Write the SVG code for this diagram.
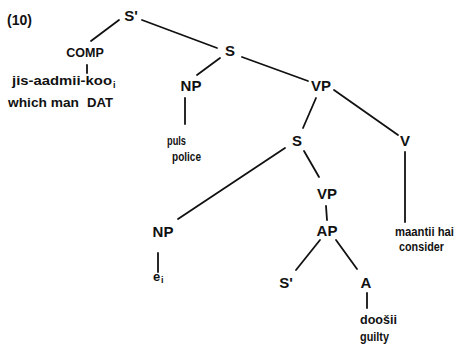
<svg xmlns="http://www.w3.org/2000/svg" width="463" height="345" viewBox="0 0 463 345">
<style>
text{font-family:"Liberation Sans",Arial,sans-serif;font-weight:bold;fill:#111}
.c{font-size:15px;text-anchor:middle}
.w{font-size:13px}
.sub{font-size:9px}
#edges line{stroke:#111;stroke-width:1.8;stroke-linecap:round}
</style>
<rect width="463" height="345" fill="#fff"/>
<text x="7" y="25" style="font-size:14px">(10)</text>
<g id="edges">
<line x1="119" y1="20" x2="91" y2="41"/>
<line x1="87" y1="65" x2="87" y2="73"/>
<line x1="142" y1="20" x2="217" y2="48"/>
<line x1="220" y1="58" x2="197" y2="75"/>
<line x1="185" y1="98" x2="185" y2="124"/>
<line x1="242" y1="57" x2="308" y2="81"/>
<line x1="316" y1="98" x2="303" y2="128"/>
<line x1="334" y1="90" x2="398" y2="135"/>
<line x1="405" y1="152" x2="405" y2="222"/>
<line x1="285" y1="148" x2="178" y2="219"/>
<line x1="158" y1="253" x2="158" y2="272"/>
<line x1="304" y1="151" x2="319" y2="177"/>
<line x1="326" y1="206" x2="327" y2="220"/>
<line x1="320" y1="240" x2="296" y2="270"/>
<line x1="336" y1="240" x2="357" y2="269"/>
<line x1="367" y1="293" x2="367" y2="308"/>
</g>
<g id="n-Sbar"><text class="c" x="131" y="21">S'</text></g>
<g id="n-COMP"><text class="c" x="85" y="57" style="font-size:12.5px">COMP</text></g>
<g id="n-jis"><text class="w" x="12" y="85" textLength="100" lengthAdjust="spacingAndGlyphs">jis-aadmii-koo</text><text class="sub" x="113" y="88">i</text>
<text class="w" x="8" y="107" textLength="71" lengthAdjust="spacingAndGlyphs">which man</text>
<text class="w" x="87" y="107" textLength="26" lengthAdjust="spacingAndGlyphs">DAT</text></g>
<g id="n-S"><text class="c" x="230" y="56">S</text></g>
<g id="n-NP1"><text class="c" x="191" y="91">NP</text></g>
<g id="n-puls"><text class="w" x="167" y="145" textLength="19" lengthAdjust="spacingAndGlyphs">puls</text>
<text class="w" x="172" y="161" textLength="29" lengthAdjust="spacingAndGlyphs">police</text></g>
<g id="n-VP1"><text class="c" x="321" y="91">VP</text></g>
<g id="n-S2"><text class="c" x="297" y="146">S</text></g>
<g id="n-V"><text class="c" x="405" y="146">V</text></g>
<g id="n-maantii"><text class="w" x="395" y="236" textLength="59" lengthAdjust="spacingAndGlyphs">maantii hai</text>
<text class="w" x="399" y="251" textLength="45" lengthAdjust="spacingAndGlyphs">consider</text></g>
<g id="n-NP2"><text class="c" x="163" y="237">NP</text></g>
<g id="n-e"><text class="w" x="153" y="281">e</text><text class="sub" x="161" y="283">i</text></g>
<g id="n-VP2"><text class="c" x="327" y="199">VP</text></g>
<g id="n-AP"><text class="c" x="327" y="236">AP</text></g>
<g id="n-Sbar2"><text class="c" x="286" y="288">S'</text></g>
<g id="n-A"><text class="c" x="366" y="288">A</text></g>
<g id="n-doosii"><text class="w" x="360" y="324" textLength="37" lengthAdjust="spacingAndGlyphs">doošii</text>
<text class="w" x="360" y="341" textLength="29" lengthAdjust="spacingAndGlyphs">guilty</text></g>
</svg>
